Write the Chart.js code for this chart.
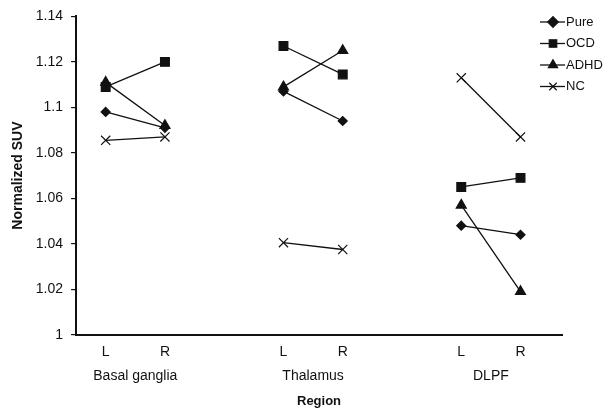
<!DOCTYPE html>
<html>
<head>
<meta charset="utf-8">
<script src="https://cdn.jsdelivr.net/npm/chart.js@4.4.0/dist/chart.umd.min.js"></script>
<style>
  html, body { margin: 0; padding: 0; background: #fff; }
</style>
</head>
<body>
<canvas id="chartSuv" width="615" height="410"></canvas>
<script>
const regions = ['Basal ganglia', 'Thalamus', 'DLPF'];
const sides = ['L', 'R'];
const yTickValues = [1, 1.02, 1.04, 1.06, 1.08, 1.1, 1.12, 1.14];
const yTickLabels = ['1', '1.02', '1.04', '1.06', '1.08', '1.1', '1.12', '1.14'];

// order: BG L, BG R, Thal L, Thal R, DLPF L, DLPF R
const pureValues = [1.098, 1.091, 1.107, 1.094, 1.048, 1.044];
const ocdValues  = [1.109, 1.120, 1.127, 1.1145, 1.065, 1.069];
const adhdValues = [1.111, 1.092, 1.109, 1.125, 1.057, 1.019];
const ncValues   = [1.0855, 1.087, 1.0405, 1.0375, 1.113, 1.087];

const ink = '#111';
Chart.defaults.font.family = "'Liberation Sans', Arial, sans-serif";
Chart.defaults.font.size = 14;
Chart.defaults.color = ink;

// region i, side j -> slot on the x scale (a gap of one slot between regions)
const slot = (i, j) => i * 3 + j + 1;

const toPoints = (vals) => {
    const pts = [];
    regions.forEach((r, i) => {
        sides.forEach((s, j) => pts.push({ x: slot(i, j), y: vals[i * sides.length + j] }));
        pts.push({ x: slot(i, 1) + 0.5, y: null });
    });
    return pts;
};

const series = (label, vals, style, radius) => ({
    label: label,
    data: toPoints(vals),
    borderColor: ink,
    backgroundColor: ink,
    borderWidth: 1.3,
    pointStyle: style,
    pointRadius: radius,
    pointBorderWidth: 1.2,
    spanGaps: false,
    xAxisID: 'x',
    yAxisID: 'y'
});

// legend sits over the top-right corner, with a short line through each marker
const legendSpot = {
    id: 'legendSpot',
    beforeDraw(chart) {
        const lg = chart.legend;
        const dx = 538 - lg.left, dy = 7 - lg.top;
        lg.left += dx; lg.right += dx;
        lg.top += dy; lg.bottom += dy;
    },
    afterDraw(chart) {
        const lg = chart.legend, ctx = chart.ctx;
        const pad = lg.options.labels.padding;
        const size = lg.options.labels.font.size;
        ctx.save();
        ctx.strokeStyle = ink;
        ctx.lineWidth = 1.3;
        lg.legendItems.forEach((item, i) => {
            const cx = lg.left + pad + size / 2;
            const cy = lg.top + pad + size / 2 + i * (size + pad);
            ctx.beginPath();
            ctx.moveTo(cx - 13, cy);
            ctx.lineTo(cx + 12, cy);
            ctx.stroke();
        });
        ctx.restore();
    }
};

new Chart(document.getElementById('chartSuv').getContext('2d'), {
    type: 'line',
    data: {
        datasets: [
            series('Pure', pureValues, 'rectRot', 4.5),
            series('OCD', ocdValues, 'rect', 6.2),
            series('ADHD', adhdValues, 'triangle', 5.8),
            series('NC', ncValues, 'crossRot', 6.5)
        ]
    },
    options: {
        responsive: false,
        animation: false,
        devicePixelRatio: 1,
        layout: { padding: { top: 15, right: 53, bottom: 1, left: 0 } },
        plugins: {
            tooltip: { enabled: false },
            legend: {
                position: 'chartArea',
                align: 'start',
                labels: {
                    usePointStyle: true,
                    boxHeight: 7.5,
                    padding: 8.5,
                    color: ink,
                    font: { size: 13 }
                }
            }
        },
        scales: {
            x: {
                type: 'linear',
                position: 'bottom',
                min: 0.5,
                max: 8.7,
                afterBuildTicks: (ax) => {
                    ax.ticks = [];
                    regions.forEach((r, i) => sides.forEach((s, j) => ax.ticks.push({ value: slot(i, j) })));
                },
                ticks: {
                    autoSkip: false,
                    maxRotation: 0,
                    padding: 9,
                    callback: (v, idx) => sides[idx % sides.length]
                },
                grid: { display: false, drawTicks: false },
                border: { color: ink, width: 2 }
            },
            x2: {
                type: 'linear',
                position: 'bottom',
                min: 0.5,
                max: 8.7,
                afterBuildTicks: (ax) => {
                    ax.ticks = regions.map((r, i) => ({ value: slot(i, 0) + 0.5 }));
                },
                ticks: {
                    autoSkip: false,
                    maxRotation: 0,
                    padding: -2,
                    callback: (v, idx) => regions[idx]
                },
                grid: { display: false, drawTicks: false },
                border: { display: false },
                title: {
                    display: true,
                    text: 'Region',
                    font: { size: 13, weight: 'bold' },
                    padding: { top: 11, bottom: 0 }
                }
            },
            y: {
                min: 1,
                max: 1.14,
                afterBuildTicks: (ax) => {
                    ax.ticks = yTickValues.map(v => ({ value: v }));
                },
                ticks: {
                    padding: 8,
                    callback: (v, idx) => yTickLabels[idx]
                },
                grid: {
                    drawOnChartArea: false,
                    drawTicks: true,
                    tickLength: 5,
                    color: ink,
                    lineWidth: 1.2
                },
                border: { color: ink, width: 2 },
                title: {
                    display: true,
                    text: 'Normalized SUV',
                    font: { size: 14, weight: 'bold' },
                    padding: { top: 10, bottom: 1 }
                }
            }
        }
    },
    plugins: [legendSpot]
});
</script>
</body>
</html>
